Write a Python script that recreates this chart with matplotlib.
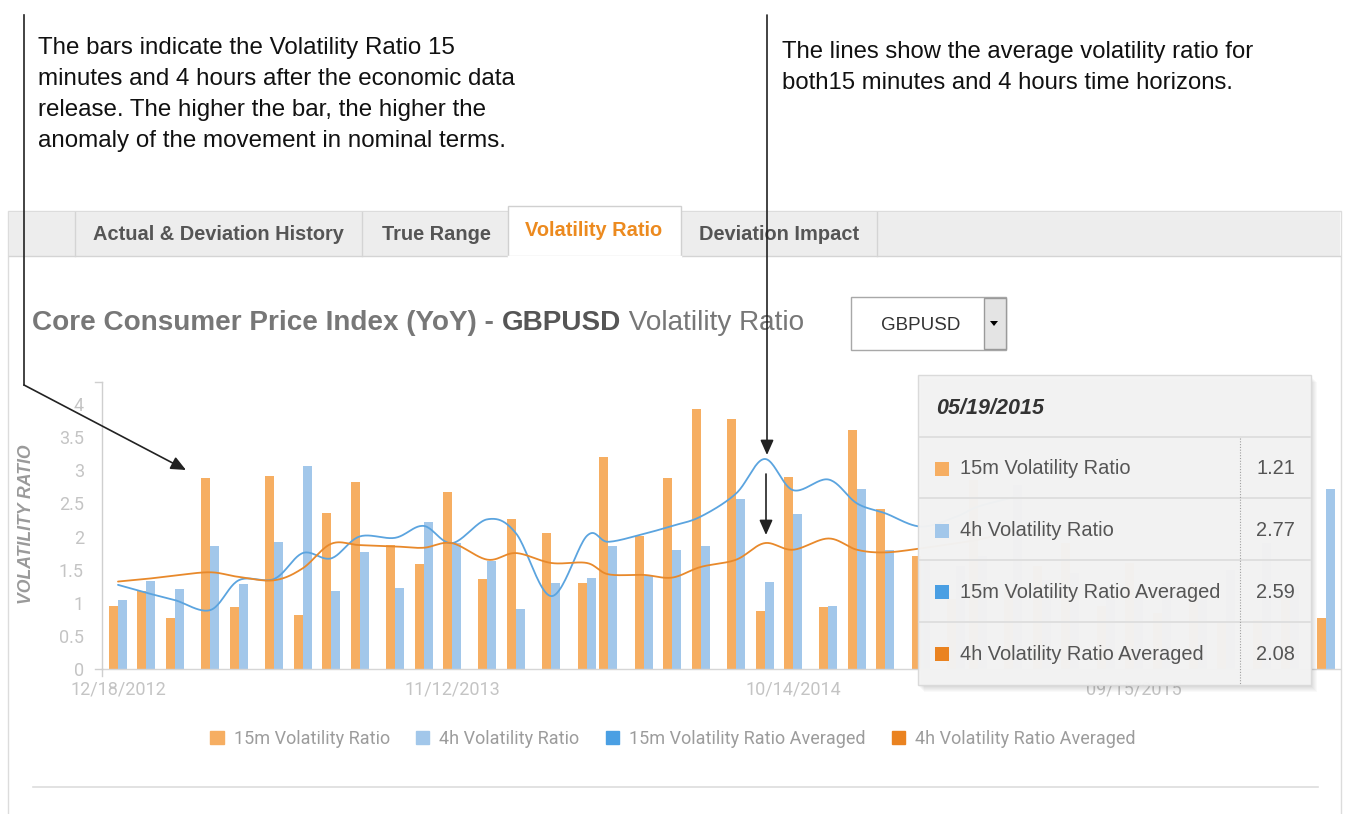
import matplotlib
matplotlib.use("Agg")
import matplotlib.pyplot as plt
import matplotlib.dates as mdates
from matplotlib.patches import Rectangle, Patch, Polygon
import numpy as np
import datetime as dt

# ---------------- data ----------------
release_dates = ["2012-12-18", "2013-01-15", "2013-02-12", "2013-03-19", "2013-04-16",
                 "2013-05-21", "2013-06-18", "2013-07-16", "2013-08-13", "2013-09-17",
                 "2013-10-15", "2013-11-12", "2013-12-17", "2014-01-14", "2014-02-18",
                 "2014-03-25", "2014-04-15", "2014-05-20", "2014-06-17", "2014-07-15",
                 "2014-08-19", "2014-09-16", "2014-10-14", "2014-11-18", "2014-12-16",
                 "2015-01-13", "2015-02-17", "2015-03-24", "2015-04-14", "2015-05-19",
                 "2015-06-16", "2015-07-14", "2015-08-18", "2015-09-15", "2015-10-13",
                 "2015-11-17", "2015-12-15", "2016-01-19", "2016-02-16", "2016-03-22"]
vr_15m = [0.95, 1.17, 0.77, 2.89, 0.93, 2.92, 0.81, 2.36, 2.83, 1.87,
          1.58, 2.67, 1.36, 2.26, 2.05, 1.30, 3.20, 2.01, 2.89, 3.92,
          3.78, 0.87, 2.90, 0.93, 3.61, 2.42, 1.70, 1.05, 2.85, 1.21,
          1.55, 1.90, 0.95, 1.60, 0.85, 1.30, 0.70, 0.74, 1.10, 0.77]
vr_4h = [1.04, 1.33, 1.21, 1.85, 1.28, 1.91, 3.07, 1.17, 1.76, 1.22,
         2.22, 1.90, 1.63, 0.91, 1.30, 1.38, 1.85, 1.40, 1.79, 1.85,
         2.57, 1.32, 2.34, 0.95, 2.71, 1.79, 1.65, 1.55, 1.70, 2.77,
         1.35, 1.45, 1.20, 1.10, 1.30, 1.05, 1.50, 1.90, 1.25, 2.72]
avg_15m = [1.27, 1.15, 1.04, 0.89, 1.34, 1.36, 1.75, 1.67, 2.00, 1.98,
           2.16, 1.90, 2.26, 2.05, 1.10, 2.01, 1.92, 2.04, 2.16, 2.30,
           2.65, 3.17, 2.70, 2.86, 2.50, 2.35, 2.15, 2.30, 2.45, 2.59]
avg_4h = [1.32, 1.36, 1.41, 1.46, 1.39, 1.34, 1.52, 1.89, 1.87, 1.85,
          1.83, 1.90, 1.65, 1.75, 1.60, 1.60, 1.43, 1.42, 1.38, 1.54,
          1.65, 1.90, 1.80, 1.97, 1.80, 1.76, 1.82, 1.90, 1.95, 2.08]
x_tick_dates = ["2012-12-18", "2013-11-12", "2014-10-14", "2015-09-15"]
x_tick_labels = ["12/18/2012", "11/12/2013", "10/14/2014", "09/15/2015"]
y_ticks = [0, 0.5, 1, 1.5, 2, 2.5, 3, 3.5, 4]
y_tick_labels = ["0", "0.5", "1", "1.5", "2", "2.5", "3", "3.5", "4"]
series_names = ["15m Volatility Ratio", "4h Volatility Ratio",
                "15m Volatility Ratio Averaged", "4h Volatility Ratio Averaged"]
tabs = ["Actual & Deviation History", "True Range", "Volatility Ratio", "Deviation Impact"]
hover_date = "2015-05-19"

C15 = "#f6ae62"
C4H = "#a2c7ea"
C15A = "#5ba4df"
C4HA = "#e8892b"
LEG15A = "#4a9fe3"
LEG4HA = "#ea8320"

PAGE = "Liberation Sans"
CHART = "Roboto"

W, H = 1349, 814
fig = plt.figure(figsize=(W / 100, H / 100), dpi=100)
fig.patch.set_facecolor("white")

# ---------------- background page (pixel coords) ----------------
bg = fig.add_axes([0, 0, 1, 1], zorder=0)
bg.set_xlim(0, W); bg.set_ylim(H, 0); bg.axis("off")
bg.add_patch(Rectangle((8, 211), 1333, 640, fc="white", ec="#dcdcdc", lw=1))
bg.add_patch(Rectangle((9, 212), 1331, 44, fc="#ededed", ec="none"))
bg.plot([9, 1340], [256, 256], color="#d4d4d4", lw=1)
for xv in [75, 362, 877]:
    bg.plot([xv, xv], [212, 256], color="#d4d4d4", lw=1)
bg.add_patch(Rectangle((508, 206), 173, 51, fc="white", ec="#d0d0d0", lw=1))
bg.plot([509, 680], [257, 257], color="white", lw=2.5)
tab_cx = [218, 436, 594, 779]
for name, cx in zip(tabs, tab_cx):
    active = name == "Volatility Ratio"
    bg.text(cx, 230 if active else 235, name, ha="center", va="center",
            fontsize=14.4, fontweight="bold", family=PAGE,
            color="#ec8a1f" if active else "#555555")

# title
TS = 20.1
t1 = bg.text(32, 323, "Core Consumer Price Index (YoY) - ", ha="left", va="center",
             fontsize=TS, fontweight="bold", family=PAGE, color="#777777")
fig.canvas.draw()
r = fig.canvas.get_renderer()
bb = t1.get_window_extent(r)
t2 = bg.text(bb.x1, 323, "GBPUSD", ha="left", va="center", fontsize=TS,
             fontweight="bold", family=PAGE, color="#555555")
bb2 = t2.get_window_extent(r)
bg.text(bb2.x1, 323, " Volatility Ratio", ha="left", va="center", fontsize=TS,
        family=PAGE, color="#777777")

# dropdown
bg.add_patch(Rectangle((851, 297), 155, 53, fc="white", ec="#a8a8a8", lw=1))
bg.add_patch(Rectangle((984, 298), 22, 51, fc="#e4e4e4", ec="#9a9a9a", lw=1))
bg.add_patch(Polygon([(990, 321), (998, 321), (994, 326)], closed=True, fc="black", ec="none"))
bg.text(921, 325, "GBPUSD", ha="center", va="center", fontsize=13.5, family=PAGE, color="#333333")

# bottom separator
bg.plot([33, 1318], [787, 787], color="#dddddd", lw=1.2)

# ---------------- chart ----------------
x0px, x1px, y0px, y1px = 102, 1340, 669, 382
ax = fig.add_axes([x0px / W, 1 - y0px / H, (x1px - x0px) / W, (y0px - y1px) / H], zorder=1)
ax.patch.set_visible(False)
px_per_unit = 66.25
px_per_day = 1.015
ax.set_ylim(0, (y0px - y1px) / px_per_unit)

d = mdates.date2num(np.array(release_dates, dtype="datetime64[D]"))
d_first = mdates.date2num(np.datetime64("2012-12-18"))
ax.set_xlim(d_first - (118 - x0px) / px_per_day, d_first + (x1px - 118) / px_per_day)

bw = 9 / px_per_day
ax.bar(d - bw / 2, vr_15m, width=bw, color=C15, zorder=2, linewidth=0)
ax.bar(d + bw / 2, vr_4h, width=bw, color=C4H, zorder=2, linewidth=0)


def smooth(xs, ys, n=24, tension=1.0):
    P = np.column_stack([xs, ys]).astype(float)
    P = np.vstack([P[0], P, P[-1]])
    out = []
    t = np.linspace(0, 1, n, endpoint=False)[:, None]
    h00 = 2 * t**3 - 3 * t**2 + 1
    h10 = t**3 - 2 * t**2 + t
    h01 = -2 * t**3 + 3 * t**2
    h11 = t**3 - t**2
    for i in range(1, len(P) - 2):
        p0, p1, p2, p3 = P[i - 1], P[i], P[i + 1], P[i + 2]
        m1 = (p2 - p0) / 2 * tension
        m2 = (p3 - p1) / 2 * tension
        out.append(h00 * p1 + h10 * m1 + h01 * p2 + h11 * m2)
    out.append(P[-2][None, :])
    c = np.vstack(out)
    return c[:, 0], c[:, 1]


na = len(avg_15m)
sx, sy = smooth(d[:na], avg_15m)
ax.plot(sx, sy, color=C15A, lw=1.3, zorder=3, solid_capstyle="round")
sx, sy = smooth(d[:na], avg_4h)
ax.plot(sx, sy, color=C4HA, lw=1.3, zorder=3, solid_capstyle="round")

ax.set_yticks(y_ticks)
ax.set_yticklabels(y_tick_labels, family=CHART, fontsize=13, color="#c4c4c4")
ax.set_xticks(mdates.date2num(np.array(x_tick_dates, dtype="datetime64[D]")))
ax.set_xticklabels(x_tick_labels, family=CHART, fontsize=13, color="#c4c4c4")
ax.tick_params(axis="y", length=0, pad=13)
ax.tick_params(axis="x", length=0, pad=8)
for s in ["top", "right"]:
    ax.spines[s].set_visible(False)
ax.spines["left"].set_color("#cfcfcf")
ax.spines["bottom"].set_color("#d6d6d6")
ax.spines["left"].set_linewidth(1)
ax.spines["bottom"].set_linewidth(1)
ax.set_ylabel("VOLATILITY RATIO", family=PAGE, fontsize=12.7, fontweight="bold",
              fontstyle="italic", color="#9a9a9a")
ax.yaxis.set_label_coords((35 - x0px) / (x1px - x0px), (y0px - 524) / (y0px - y1px))

# legend
handles = [Patch(color=C15), Patch(color=C4H), Patch(color=LEG15A), Patch(color=LEG4HA)]
leg = fig.legend(handles, series_names, loc="center", bbox_to_anchor=(673 / W, 1 - 739 / H),
                 ncol=4, frameon=False, handlelength=0.75, handleheight=0.75,
                 handletextpad=0.55, columnspacing=1.45,
                 prop={"family": CHART, "size": 13})
for txt in leg.get_texts():
    txt.set_color("#9c9c9c")

# ---------------- foreground: ticks, tooltip, annotations ----------------
fg = fig.add_axes([0, 0, 1, 1], zorder=3)
fg.set_xlim(0, W); fg.set_ylim(H, 0); fg.axis("off")
fg.patch.set_visible(False)
fg.plot([95, 102], [382, 382], color="#cfcfcf", lw=1)
fg.plot([95, 102], [669, 669], color="#cfcfcf", lw=1)
fg.plot([102, 102], [669, 676], color="#cfcfcf", lw=1)

# tooltip
tx0, ty0, tw, th = 918, 375, 393, 310
for i in range(1, 7):
    fg.add_patch(Rectangle((tx0 + i, ty0 + i + 1), tw, th, fc="black", alpha=0.025, ec="none"))
fg.add_patch(Rectangle((tx0, ty0), tw, th, fc="#f3f3f3", alpha=0.975, ec="#dadada", lw=1))
hi = release_dates.index(hover_date)
hd = dt.date.fromisoformat(hover_date)
fg.text(936, 408, hd.strftime("%m/%d/%Y"), ha="left", va="center", fontsize=15.5,
        fontweight="bold", fontstyle="italic", family=PAGE, color="#333333")
for yv in [437, 498, 560, 622]:
    fg.plot([tx0 + 1, tx0 + tw - 1], [yv, yv], color="#dcdcdc", lw=1.2)
fg.plot([1240, 1240], [438, ty0 + th], color="#a0a0a0", lw=0.8, ls=(0, (1, 1.5)))
row_vals = [vr_15m[hi], vr_4h[hi], avg_15m[hi], avg_4h[hi]]
row_cols = [C15, C4H, LEG15A, LEG4HA]
row_y = [469, 531, 592, 654]
for name, val, col, yv in zip(series_names, row_vals, row_cols, row_y):
    fg.add_patch(Rectangle((935, yv - 7), 14, 14, fc=col, ec="none"))
    fg.text(960, yv, name, ha="left", va="center", fontsize=14.4, family=PAGE, color="#555555")
    fg.text(1295, yv, f"{val:.2f}", ha="right", va="center", fontsize=14.4, family=PAGE,
            color="#555555")

# annotations
left_lines = ["The bars indicate the Volatility Ratio 15",
              "minutes and 4 hours after the economic data",
              "release. The higher the bar, the higher the",
              "anomaly of the movement in nominal terms."]
for i, s in enumerate(left_lines):
    fg.text(38, 48 + 31 * i, s, ha="left", va="center", fontsize=17.4, family=PAGE, color="#111111")
right_lines = ["The lines show the average volatility ratio for",
               "both15 minutes and 4 hours time horizons."]
for i, s in enumerate(right_lines):
    fg.text(782, 52 + 31 * i, s, ha="left", va="center", fontsize=17.2, family=PAGE, color="#111111")

acol = "#222222"
fg.plot([24, 24], [15, 385], color=acol, lw=1.2)
aprops = dict(arrowstyle="-|>,head_length=0.9,head_width=0.4", color=acol, lw=1.2,
              shrinkA=0, shrinkB=0)
fg.annotate("", xy=(186, 470), xytext=(24, 385), arrowprops=aprops)
fg.annotate("", xy=(767, 455), xytext=(767, 15), arrowprops=aprops)
fg.annotate("", xy=(766, 535), xytext=(766, 474), arrowprops=aprops)

fig.savefig("out.png", dpi=100, facecolor="white")
